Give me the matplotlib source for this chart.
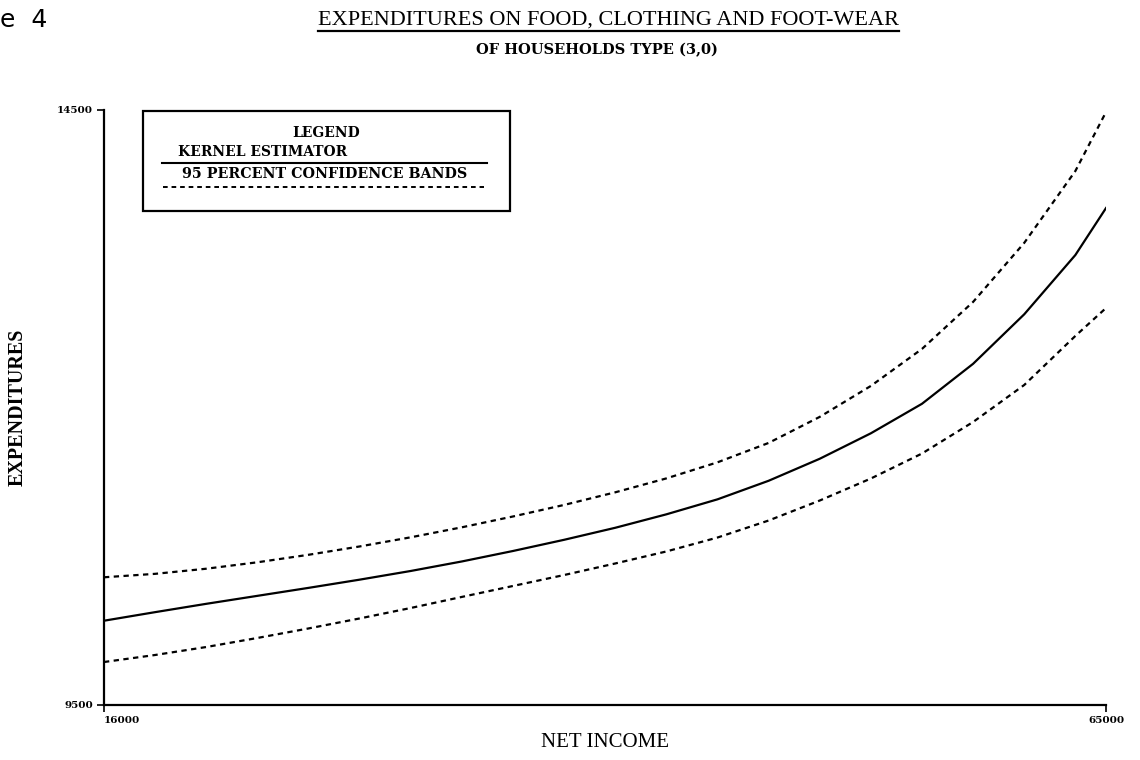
import numpy as np
import matplotlib
matplotlib.use("Agg")
import matplotlib.pyplot as plt
from matplotlib.lines import Line2D
from matplotlib.patches import Rectangle

# net income grid and kernel fit with 95% bands
income = [16000, 18500, 21000, 23500, 26000, 28500, 31000, 33500, 36000, 38500, 41000,
          43500, 46000, 48500, 51000, 53500, 56000, 58500, 61000, 63500, 65000]
kernel = [10208, 10280, 10350, 10417, 10484, 10553, 10626, 10706, 10794, 10888, 10989,
          11102, 11228, 11384, 11569, 11783, 12031, 12367, 12783, 13281, 13676]
upper = [10573, 10602, 10645, 10699, 10762, 10832, 10909, 10993, 11084, 11181, 11287,
         11404, 11539, 11702, 11921, 12181, 12492, 12887, 13383, 13987, 14483]
lower = [9861, 9920, 9987, 10063, 10143, 10227, 10315, 10408, 10500, 10592, 10689,
         10790, 10907, 11050, 11218, 11403, 11613, 11878, 12189, 12601, 12836]

xticks = [16000, 65000]
yticks = [9500, 14500]

serif = "Liberation Serif"
heavy = "DejaVu Serif"
dash = (0, (2.4, 2.0))

fig = plt.figure(figsize=(11.4, 7.6), dpi=100)
ax = fig.add_axes([0.0912, 0.0724, 0.8790, 0.7829])

ax.plot(income, kernel, color="black", lw=1.6)
ax.plot(income, upper, color="black", lw=1.6, linestyle=dash)
ax.plot(income, lower, color="black", lw=1.6, linestyle=dash)

ax.set_xlim(16000, 65000)
ax.set_ylim(9500, 14500)
ax.set_xticks(xticks)
ax.set_yticks(yticks)
ax.set_xticklabels([str(v) for v in xticks], fontfamily=heavy, fontweight="bold", fontsize=7.5)
ax.set_yticklabels([str(v) for v in yticks], fontfamily=heavy, fontweight="bold", fontsize=7.5)
ax.get_xticklabels()[0].set_ha("left")
ax.tick_params(axis="both", direction="out", length=5, width=1.2, color="black", pad=3)
for s in ["top", "right"]:
    ax.spines[s].set_visible(False)
for s in ["left", "bottom"]:
    ax.spines[s].set_linewidth(1.6)

ax.set_xlabel("NET INCOME", fontfamily=serif, fontsize=15, labelpad=6)
ax.set_ylabel("EXPENDITURES", fontfamily=serif, fontweight="bold", fontsize=14.5, va="center")
ax.yaxis.set_label_coords(-86 / 1002, 0.5)

# titles
title = fig.text(608 / 1140, 0.974, "EXPENDITURES ON FOOD, CLOTHING AND FOOT-WEAR",
                 ha="center", va="center", fontfamily=serif, fontsize=16)
fig.text(597 / 1140, 0.934, "OF HOUSEHOLDS TYPE (3,0)", ha="center", va="center",
         fontfamily=heavy, fontweight="bold", fontsize=10.5)
fig.text(0.0, 0.974, "e  4", ha="left", va="center", fontfamily="DejaVu Sans", fontsize=18)

# underline under the main title
fig.canvas.draw()
bb = title.get_window_extent(fig.canvas.get_renderer())
W, H = fig.bbox.width, fig.bbox.height
fig.add_artist(Line2D([bb.x0 / W, bb.x1 / W], [(bb.y0 - 2) / H, (bb.y0 - 2) / H],
                      color="black", lw=1.6))

# legend box drawn by hand
fig.add_artist(Rectangle((143 / W, 1 - 211 / H), 367 / W, 100 / H, fill=False,
                         edgecolor="black", lw=1.6))
fig.text(326 / W, 1 - 133 / H, "LEGEND", ha="center", va="center",
         fontfamily=heavy, fontweight="bold", fontsize=10)
fig.text(178 / W, 1 - 152 / H, "KERNEL ESTIMATOR", ha="left", va="center",
         fontfamily=heavy, fontweight="bold", fontsize=10)
fig.add_artist(Line2D([162 / W, 487 / W], [1 - 163 / H, 1 - 163 / H], color="black", lw=1.5))
fig.text(182 / W, 1 - 174 / H, "95 PERCENT CONFIDENCE BANDS", ha="left", va="center",
         fontfamily=heavy, fontweight="bold", fontsize=10.3)
fig.add_artist(Line2D([163 / W, 484 / W], [1 - 187 / H, 1 - 187 / H], color="black", lw=1.4,
                      linestyle=dash))

fig.savefig("out.png", dpi=100)
